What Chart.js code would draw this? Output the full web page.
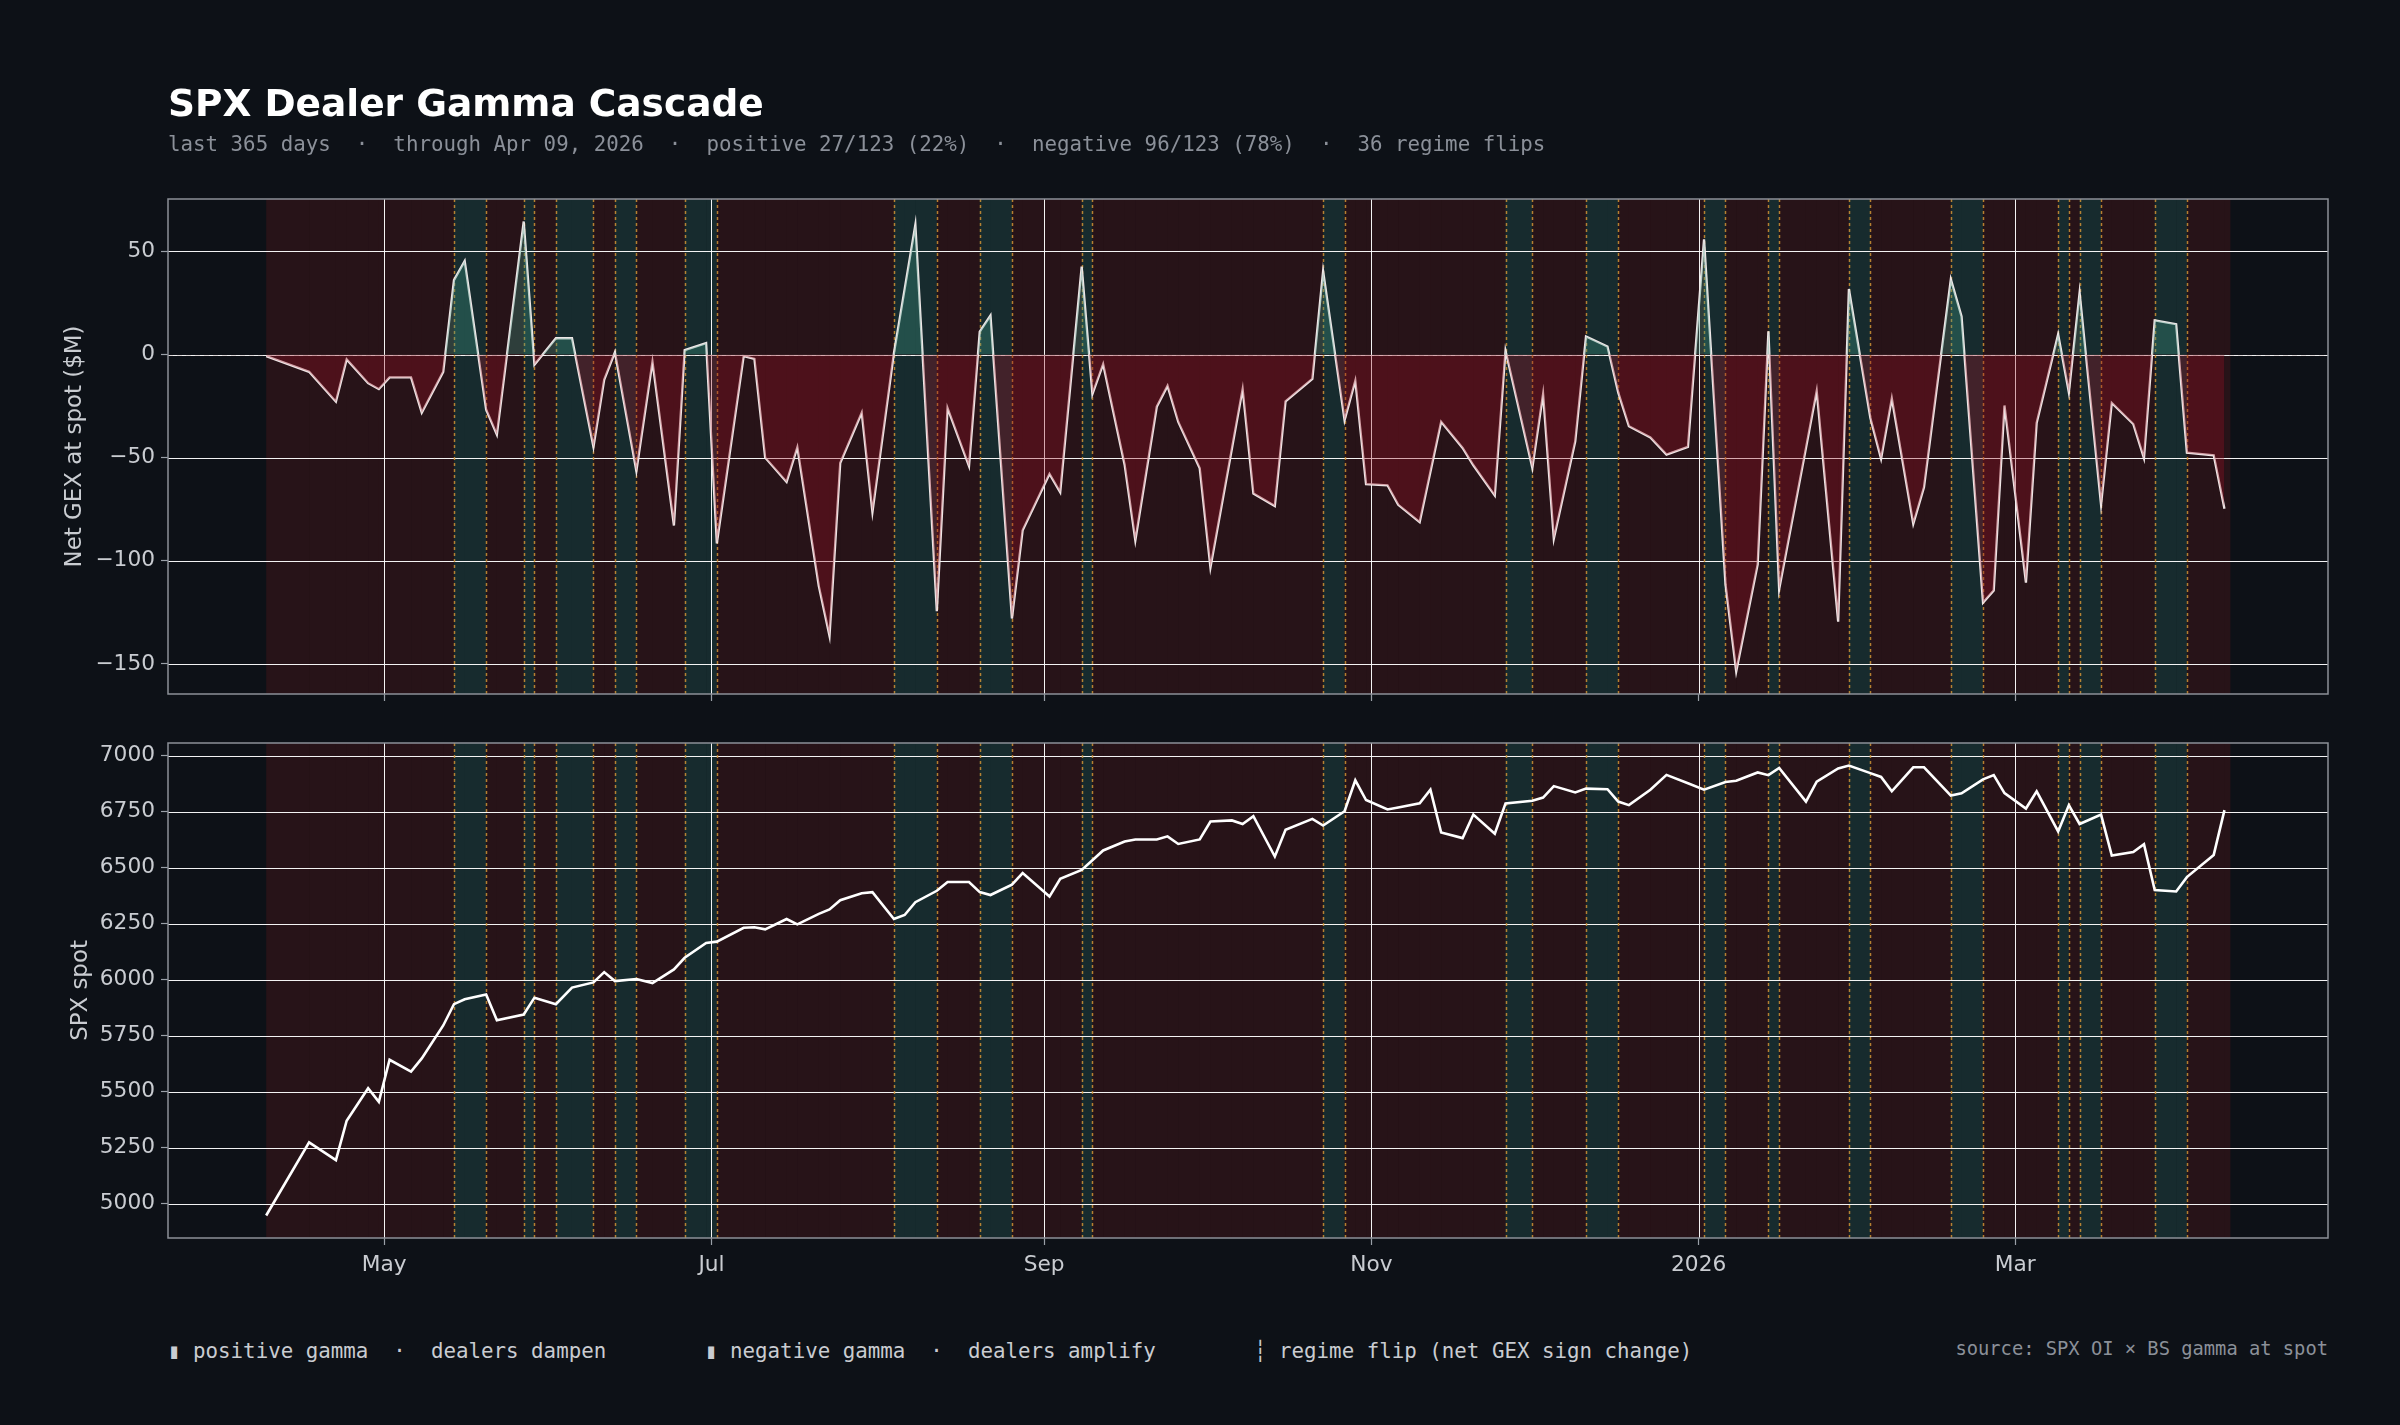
<!DOCTYPE html>
<html><head><meta charset="utf-8">
<script src="https://cdn.jsdelivr.net/npm/chart.js@4.4.1/dist/chart.umd.min.js"></script>
<style>
html,body{margin:0;padding:0;background:#0d1117;}
#wrap{position:relative;width:2400px;height:1425px;overflow:hidden;background:#0d1117;}
canvas{position:absolute;left:0;}
.t{position:absolute;white-space:pre;line-height:1;z-index:5;}
</style></head><body>
<div id="wrap">
<canvas id="c1" width="2400" height="740" style="top:0px"></canvas>
<canvas id="c2" width="2400" height="580" style="top:720px"></canvas>
<div class="t" style="left:168px;top:81px;font:bold 37.5px 'DejaVu Sans';color:#ffffff;">SPX Dealer Gamma Cascade</div>
<div class="t" style="left:168px;top:132px;font:20.8px 'DejaVu Sans Mono';color:#8b9099;">last 365 days  ·  through Apr 09, 2026  ·  positive 27/123 (22%)  ·  negative 96/123 (78%)  ·  36 regime flips</div>
<div class="t" style="left:168px;top:1339px;font:20.8px 'DejaVu Sans Mono';color:#c9ccd1;">▮ positive gamma  ·  dealers dampen</div>
<div class="t" style="left:705px;top:1339px;font:20.8px 'DejaVu Sans Mono';color:#c9ccd1;">▮ negative gamma  ·  dealers amplify</div>
<div class="t" style="left:1254px;top:1339px;font:20.8px 'DejaVu Sans Mono';color:#c9ccd1;">┆ regime flip (net GEX sign change)</div>
<div class="t" style="right:72px;top:1338px;font:18.75px 'DejaVu Sans Mono';color:#8b9099;">source: SPX OI × BS gamma at spot</div>
</div>
<script>
// ---- data ----
const sampleDates = [
 '2025-04-09','2025-04-17','2025-04-22','2025-04-24','2025-04-28','2025-04-30','2025-05-02','2025-05-06','2025-05-08','2025-05-12',
 '2025-05-14','2025-05-16','2025-05-20','2025-05-22','2025-05-27','2025-05-29','2025-06-02','2025-06-05','2025-06-09','2025-06-11',
 '2025-06-13','2025-06-17','2025-06-20','2025-06-24','2025-06-26','2025-06-30','2025-07-02','2025-07-07','2025-07-09','2025-07-11',
 '2025-07-15','2025-07-17','2025-07-21','2025-07-23','2025-07-25','2025-07-29','2025-07-31','2025-08-04','2025-08-06','2025-08-08',
 '2025-08-12','2025-08-14','2025-08-18','2025-08-20','2025-08-22','2025-08-26','2025-08-28','2025-09-02','2025-09-04','2025-09-08',
 '2025-09-10','2025-09-12','2025-09-16','2025-09-18','2025-09-22','2025-09-24','2025-09-26','2025-09-30','2025-10-02','2025-10-06',
 '2025-10-08','2025-10-10','2025-10-14','2025-10-16','2025-10-21','2025-10-23','2025-10-27','2025-10-29','2025-10-31','2025-11-04',
 '2025-11-06','2025-11-10','2025-11-12','2025-11-14','2025-11-18','2025-11-20','2025-11-24','2025-11-26','2025-12-01','2025-12-03',
 '2025-12-05','2025-12-09','2025-12-11','2025-12-15','2025-12-17','2025-12-19','2025-12-23','2025-12-26','2025-12-30','2026-01-02',
 '2026-01-06','2026-01-08','2026-01-12','2026-01-14','2026-01-16','2026-01-21','2026-01-23','2026-01-27','2026-01-29','2026-02-02',
 '2026-02-04','2026-02-06','2026-02-10','2026-02-12','2026-02-17','2026-02-19','2026-02-23','2026-02-25','2026-02-27','2026-03-03',
 '2026-03-05','2026-03-09','2026-03-11','2026-03-13','2026-03-17','2026-03-19','2026-03-23','2026-03-25','2026-03-27','2026-03-31',
 '2026-04-02','2026-04-07','2026-04-09'
];
const netGex = [
 -0.8,-8.4,-22.9,-2.4,-13.9,-16.8,-11.1,-11.1,-28.2,-8.4,
 36.1,45.3,-26.8,-38.9,64.5,-5.0,7.9,7.9,-44.8,-12.3,
 1.1,-56.6,-3.5,-82.9,2.1,5.5,-91.6,-0.8,-2.1,-50.0,
 -61.8,-45.0,-112.3,-136.5,-52.6,-28.2,-76.5,0.6,31.7,62.9,
 -124.4,-26.0,-54.2,11.1,18.9,-128.0,-85.2,-57.9,-66.8,42.6,
 -19.2,-4.7,-53.4,-90.2,-25.3,-15.2,-32.7,-55.2,-103.4,-45.7,
 -16.8,-67.4,-73.5,-22.7,-11.8,40.5,-31.9,-12.7,-62.9,-63.4,
 -72.9,-81.3,-57.0,-32.6,-45.3,-53.7,-68.4,1.9,-55.0,-19.2,
 -89.4,-42.1,8.7,3.9,-18.4,-34.8,-40.2,-48.5,-44.8,55.8,
 -111.5,-153.7,-101.8,11.3,-113.9,-45.4,-17.7,-129.5,31.8,-30.8,
 -50.6,-21.3,-82.1,-64.4,36.5,18.5,-120.3,-114.4,-24.7,-110.6,
 -33.2,9.8,-18.4,30.0,-72.9,-23.5,-33.7,-50.3,16.6,14.7,
 -47.6,-48.9,-74.8
];
const spxSpot = [
 4948,5274,5195,5371,5516,5455,5643,5590,5649,5796,
 5891,5913,5934,5819,5845,5920,5891,5965,5988,6034,
 5994,6003,5985,6046,6098,6164,6170,6232,6234,6225,
 6271,6247,6294,6314,6355,6386,6391,6271,6289,6346,
 6397,6436,6436,6391,6378,6424,6476,6371,6450,6490,
 6533,6577,6617,6626,6626,6640,6606,6626,6706,6711,
 6695,6730,6550,6669,6718,6688,6752,6890,6802,6760,
 6769,6787,6848,6657,6632,6737,6652,6787,6799,6813,
 6864,6836,6853,6850,6795,6779,6848,6914,6877,6848,
 6882,6888,6925,6913,6945,6795,6884,6943,6956,6922,
 6905,6841,6948,6948,6822,6832,6894,6913,6833,6764,
 6841,6662,6779,6695,6737,6554,6570,6605,6400,6394,
 6458,6557,6757
];
const tickDates = ['2025-05-01','2025-07-01','2025-09-01','2025-11-01','2026-01-01','2026-03-01'];
const tickLabels = ['May','Jul','Sep','Nov','2026','Mar'];
const gexTicks = [-150,-100,-50,0,50];
const spotTicks = [5000,5250,5500,5750,6000,6250,6500,6750,7000];

// ---- derived ----
const DAY = 86400000;
const t0 = Date.parse(sampleDates[0]);
const dayIdx = sampleDates.map(s => (Date.parse(s) - t0) / DAY);
const tickDays = tickDates.map(s => (Date.parse(s) - t0) / DAY);
const N = dayIdx.length;
const spanEnd = dayIdx[N-1] + 1;
const xMargin = 0.05 * spanEnd;
const X_MIN = -xMargin, X_MAX = spanEnd + xMargin;
function padRange(arr){ const mn=Math.min(...arr), mx=Math.max(...arr), m=0.05*(mx-mn); return [mn-m, mx+m]; }

// ---- style ----
const POS_BAND = '#172b2e';
const NEG_BAND = '#271318';
const FLIP = 'rgba(208,146,52,0.85)';
const GRID = 'rgba(255,255,255,0.95)';
const FRAME = '#8c9098';
const TXT = '#c9ccd1';
const TICKC = '#9aa0a8';
const fmt = v => (v < 0 ? '\u2212' + Math.abs(v) : String(v));

function regimePlugin(lineIndex, zeroLine){
  return {
    id: 'regime',
    beforeDraw(chart){
      const {ctx, chartArea:a, scales:{x}} = chart;
      ctx.save();
      ctx.beginPath(); ctx.rect(a.left, a.top, a.width, a.height); ctx.clip();
      for (let i=0;i<N;i++){
        const x0 = x.getPixelForValue(dayIdx[i]);
        const x1 = x.getPixelForValue(i<N-1 ? dayIdx[i+1] : spanEnd);
        ctx.fillStyle = netGex[i] >= 0 ? POS_BAND : NEG_BAND;
        ctx.fillRect(x0, a.top, x1-x0+0.6, a.height);
      }
      ctx.restore();
    },
    beforeDatasetDraw(chart, args){
      if (args.index !== lineIndex) return;
      const {ctx, chartArea:a, scales:{x,y}} = chart;
      ctx.save();
      ctx.beginPath(); ctx.rect(a.left, a.top, a.width, a.height); ctx.clip();
      ctx.strokeStyle = GRID; ctx.lineWidth = 1;
      ctx.beginPath();
      x.ticks.forEach(t => { const p = Math.round(x.getPixelForValue(t.value))+0.5; ctx.moveTo(p,a.top); ctx.lineTo(p,a.bottom); });
      y.ticks.forEach(t => { const p = Math.round(y.getPixelForValue(t.value))+0.5; ctx.moveTo(a.left,p); ctx.lineTo(a.right,p); });
      ctx.stroke();
      if (zeroLine){
        const p = Math.round(y.getPixelForValue(0))+0.5;
        ctx.strokeStyle = 'rgba(215,205,205,0.75)'; ctx.lineWidth = 1.2; ctx.setLineDash([5,4]);
        ctx.beginPath(); ctx.moveTo(a.left,p); ctx.lineTo(a.right,p); ctx.stroke();
      }
      ctx.strokeStyle = FLIP; ctx.lineWidth = 1.5; ctx.setLineDash([3,3]);
      ctx.beginPath();
      for (let i=1;i<N;i++){
        if ((netGex[i]>=0) !== (netGex[i-1]>=0)){
          const p = Math.round(x.getPixelForValue(dayIdx[i]))+0.5;
          ctx.moveTo(p,a.top); ctx.lineTo(p,a.bottom);
        }
      }
      ctx.stroke();
      ctx.restore();
    },
    afterDraw(chart){
      const {ctx, chartArea:a} = chart;
      ctx.save();
      ctx.strokeStyle = FRAME; ctx.lineWidth = 1.5;
      ctx.strokeRect(a.left, a.top, a.width, a.height);
      ctx.restore();
    }
  };
}

function makeOptions(yRange, yTicks, yTitle, titlePad, showX, xH, padTop){
  return {
    responsive:false, animation:false, devicePixelRatio:1,
    layout:{padding:{top:padTop, right:72, left:0, bottom:0}},
    plugins:{legend:{display:false}, tooltip:{enabled:false}},
    elements:{point:{radius:0}, line:{tension:0}},
    scales:{
      x:{
        type:'linear', min:X_MIN, max:X_MAX,
        afterBuildTicks:s=>{ s.ticks = tickDays.map(v=>({value:v})); },
        afterFit:s=>{ s.height = xH; },
        grid:{color:'transparent', tickColor:TICKC, tickLength:7, tickWidth:1.2},
        border:{display:false},
        ticks:{display:showX, autoSkip:false, maxRotation:0, padding:7, color:TXT,
               font:{family:'DejaVu Sans', size:21.7},
               callback:v=>{ const k = tickDays.indexOf(v); return k>=0 ? tickLabels[k] : ''; }}
      },
      y:{
        type:'linear', min:yRange[0], max:yRange[1],
        afterBuildTicks:s=>{ s.ticks = yTicks.map(v=>({value:v})); },
        afterFit:s=>{ s.width = 168; },
        grid:{color:'transparent', tickColor:TICKC, tickLength:7, tickWidth:1.2},
        border:{display:false},
        ticks:{color:TXT, padding:6, font:{family:'DejaVu Sans', size:21.7}, callback:v=>fmt(v)},
        title:{display:true, text:yTitle, color:TXT, font:{family:'DejaVu Sans', size:22.9}, padding:{top:titlePad, bottom:0}}
      }
    }
  };
}

const gexPts = dayIdx.map((d,i)=>({x:d, y:netGex[i]}));
const spotPts = dayIdx.map((d,i)=>({x:d, y:spxSpot[i]}));

new Chart(document.getElementById('c1'), {
  type:'line',
  data:{datasets:[
    {data:gexPts, borderWidth:0, borderColor:'transparent', pointRadius:0,
     fill:{target:{value:0}, above:'rgba(63,156,133,0.32)', below:'rgba(160,16,34,0.32)'}},
    {data:gexPts, borderColor:'rgba(245,236,236,0.97)', borderWidth:2.3, pointRadius:0, fill:false}
  ]},
  options:makeOptions(padRange(netGex), gexTicks, 'Net GEX at spot ($M)', 61, false, 46, 199),
  plugins:[regimePlugin(1, true)]
});

new Chart(document.getElementById('c2'), {
  type:'line',
  data:{datasets:[
    {data:spotPts, borderColor:'#ffffff', borderWidth:2.6, pointRadius:0, fill:false}
  ]},
  options:makeOptions(padRange(spxSpot), spotTicks, 'SPX spot', 67, true, 62, 23),
  plugins:[regimePlugin(0, false)]
});
</script>
</body></html>
